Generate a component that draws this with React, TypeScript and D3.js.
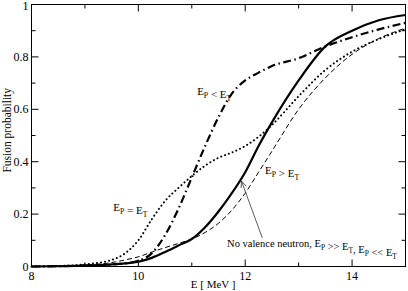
import * as React from "react";
import * as d3 from "d3";

// beam energy grid [MeV]
const energy = [8, 8.5, 9, 9.5, 9.75, 10, 10.25, 10.5, 10.75, 11, 11.25, 11.5, 11.75, 12, 12.25, 12.5, 13, 13.5, 14, 14.5, 15];

// fusion probability for each case
const noValence = [0, 0.001, 0.003, 0.008, 0.012, 0.018, 0.033, 0.055, 0.08, 0.105, 0.15, 0.21, 0.28, 0.36, 0.46, 0.55, 0.71, 0.84, 0.9, 0.94, 0.96];
const epGreater = [0, 0.002, 0.006, 0.015, 0.025, 0.037, 0.055, 0.072, 0.088, 0.105, 0.13, 0.165, 0.215, 0.28, 0.36, 0.44, 0.6, 0.72, 0.81, 0.87, 0.91];
const epEqual = [0, 0.002, 0.008, 0.025, 0.05, 0.1, 0.18, 0.25, 0.3, 0.345, 0.385, 0.415, 0.435, 0.46, 0.495, 0.54, 0.65, 0.75, 0.82, 0.868, 0.905];
const epLess = [0, 0.001, 0.003, 0.007, 0.012, 0.022, 0.05, 0.12, 0.22, 0.34, 0.46, 0.57, 0.66, 0.71, 0.74, 0.765, 0.795, 0.84, 0.875, 0.905, 0.93];

const xMajor = [8, 10, 12, 14];
const xMinor = [9, 11, 13, 15];
const yMajor = [0, 0.2, 0.4, 0.6, 0.8, 1];
const yMinor = [0.1, 0.3, 0.5, 0.7, 0.9];

const FONT = "'Liberation Serif', 'Times New Roman', serif";

export default class App extends React.Component<any, any> {
  ref = React.createRef<SVGSVGElement>();
  margin = { top: 4.5, right: 2.5, bottom: 24.5, left: 31.5 };
  width = 408;
  height = 291;

  componentDidMount() {
    this.drawGraph();
  }

  drawGraph() {
    const w = this.width - this.margin.left - this.margin.right;
    const h = this.height - this.margin.top - this.margin.bottom;

    const x = d3.scaleLinear().domain([8, 15]).range([0, w]);
    const y = d3.scaleLinear().domain([0, 1]).range([h, 0]);

    const root = d3.select(this.ref.current);
    root.selectAll("*").remove();
    const svg = root.append("g")
      .attr("transform", "translate(" + this.margin.left + "," + this.margin.top + ")");

    // frame
    svg.append("rect")
      .attr("width", w).attr("height", h)
      .attr("fill", "none").attr("stroke", "#000").attr("stroke-width", 1);

    // ticks, pointing inward on all four sides
    const tick = (x1: number, y1: number, x2: number, y2: number) =>
      svg.append("line").attr("x1", x1).attr("y1", y1).attr("x2", x2).attr("y2", y2)
        .attr("stroke", "#000").attr("stroke-width", 1);

    xMajor.forEach(v => { tick(x(v), h, x(v), h - 7); tick(x(v), 0, x(v), 7); });
    xMinor.forEach(v => { tick(x(v), h, x(v), h - 4); tick(x(v), 0, x(v), 4); });
    yMajor.forEach(v => { tick(0, y(v), 7, y(v)); tick(w, y(v), w - 7, y(v)); });
    yMinor.forEach(v => { tick(0, y(v), 4, y(v)); tick(w, y(v), w - 4, y(v)); });

    svg.selectAll(".xlab").data(xMajor).enter().append("text")
      .attr("x", d => x(d)).attr("y", h + 13)
      .attr("text-anchor", "middle")
      .attr("font-family", FONT).attr("font-size", 12)
      .text(d => d);

    svg.selectAll(".ylab").data(yMajor).enter().append("text")
      .attr("x", -3).attr("y", d => y(d) + (d === 1 ? 5.5 : 4))
      .attr("text-anchor", "end")
      .attr("font-family", FONT).attr("font-size", 12)
      .text(d => d3.format("~g")(d));

    svg.append("text")
      .attr("x", x(11.4)).attr("y", h + 21)
      .attr("text-anchor", "middle")
      .attr("font-family", FONT).attr("font-size", 11)
      .text("E [ MeV ]");

    svg.append("text")
      .attr("transform", "translate(" + (-21) + "," + y(0.52) + ") rotate(-90)")
      .attr("text-anchor", "middle")
      .attr("font-family", FONT).attr("font-size", 11.5)
      .text("Fusion probability");

    // curves
    const line = (vals: number[]) => d3.line<number>()
      .x((_, i) => x(energy[i]))
      .y(d => y(d))
      .curve(d3.curveMonotoneX)(vals);

    const series = [
      { vals: epGreater, width: 1, dash: "5,3", cap: "butt" },
      { vals: epEqual, width: 2, dash: "0.1,4", cap: "round" },
      { vals: epLess, width: 2.2, dash: "8,3.5,1.5,3.5", cap: "butt" },
      { vals: noValence, width: 2.2, dash: null, cap: "butt" },
    ];
    series.forEach(s => {
      const p = svg.append("path")
        .attr("d", line(s.vals))
        .attr("fill", "none").attr("stroke", "#000")
        .attr("stroke-width", s.width)
        .attr("stroke-linecap", s.cap);
      if (s.dash) p.attr("stroke-dasharray", s.dash);
    });

    // labels with subscripts
    const label = (e: number, p: number, size: number, parts: [string, string][]) => {
      const t = svg.append("text")
        .attr("x", x(e)).attr("y", y(p))
        .attr("font-family", FONT).attr("font-size", size);
      parts.forEach(([main, sub]) => {
        t.append("tspan").attr("dy", 0).text(main);
        if (sub) {
          t.append("tspan").attr("dy", 3).attr("font-size", size * 0.7).text(sub);
          t.append("tspan").attr("dy", -3).text("");
        }
      });
    };

    label(11.1, 0.655, 11, [["E", "P"], [" < E", "T"]]);
    label(9.53, 0.21, 11, [["E", "P"], [" = E", "T"]]);
    label(12.37, 0.353, 11, [["E", "P"], [" > E", "T"]]);
    label(11.66, 0.074, 10.5, [["No valence neutron, E", "P"], [" >> E", "T"], [", E", "P"], [" << E", "T"]]);

    // arrow to the solid curve
    const ax1 = x(12.32), ay1 = y(0.109), ax2 = x(11.93), ay2 = y(0.326);
    svg.append("line")
      .attr("x1", ax1).attr("y1", ay1).attr("x2", ax2).attr("y2", ay2)
      .attr("stroke", "#333").attr("stroke-width", 0.8);
    const ang = Math.atan2(ay1 - ay2, ax1 - ax2);
    [-0.4, 0.4].forEach(da => {
      svg.append("line")
        .attr("x1", ax2).attr("y1", ay2)
        .attr("x2", ax2 + 7 * Math.cos(ang + da)).attr("y2", ay2 + 7 * Math.sin(ang + da))
        .attr("stroke", "#333").attr("stroke-width", 0.8);
    });
  }

  render(): any {
    return <svg ref={this.ref} width={this.width} height={this.height}
      style={{ position: "absolute", left: 0, top: 0, background: "#fff" }} />;
  }
}
